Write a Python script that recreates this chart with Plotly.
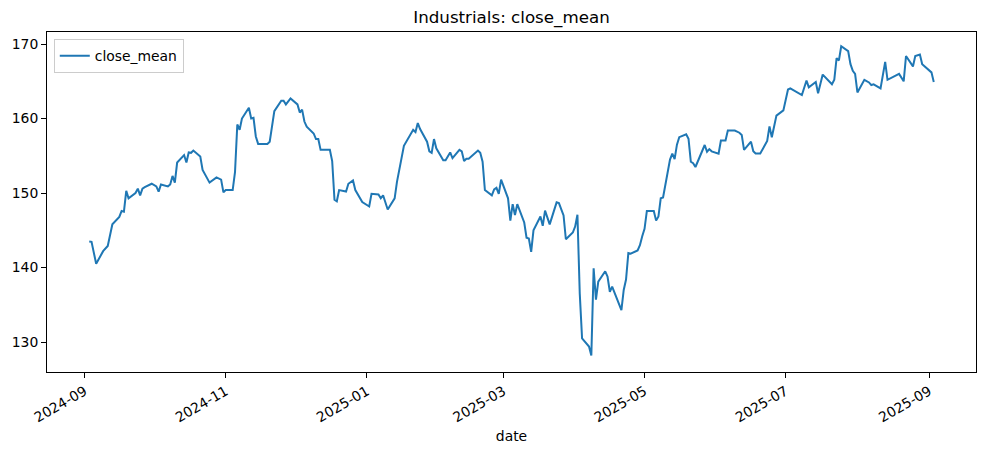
import plotly.graph_objects as go

# trading days (vertices of the line)
dates = [
    "2024-09-03", "2024-09-04", "2024-09-06", "2024-09-09", "2024-09-11", "2024-09-13",
    "2024-09-16", "2024-09-17", "2024-09-18", "2024-09-19", "2024-09-20", "2024-09-23",
    "2024-09-24", "2024-09-25", "2024-09-26", "2024-09-27", "2024-09-30", "2024-10-02",
    "2024-10-03", "2024-10-04", "2024-10-07", "2024-10-08", "2024-10-09", "2024-10-10",
    "2024-10-11", "2024-10-14", "2024-10-15", "2024-10-16", "2024-10-17", "2024-10-18",
    "2024-10-21", "2024-10-22", "2024-10-25", "2024-10-28", "2024-10-30", "2024-10-31",
    "2024-11-01", "2024-11-04", "2024-11-05", "2024-11-06", "2024-11-07", "2024-11-08",
    "2024-11-11", "2024-11-12", "2024-11-13", "2024-11-14", "2024-11-15", "2024-11-19",
    "2024-11-20", "2024-11-22", "2024-11-25", "2024-11-26", "2024-11-27", "2024-11-29",
    "2024-12-02", "2024-12-03", "2024-12-04", "2024-12-05", "2024-12-06", "2024-12-09",
    "2024-12-10", "2024-12-11", "2024-12-12", "2024-12-16", "2024-12-17", "2024-12-18",
    "2024-12-19", "2024-12-20", "2024-12-23", "2024-12-24", "2024-12-26", "2024-12-27",
    "2024-12-30", "2025-01-02", "2025-01-03", "2025-01-06", "2025-01-07", "2025-01-08",
    "2025-01-10", "2025-01-13", "2025-01-14", "2025-01-16", "2025-01-17", "2025-01-21",
    "2025-01-22", "2025-01-23", "2025-01-24", "2025-01-27", "2025-01-28", "2025-01-29",
    "2025-01-30", "2025-01-31", "2025-02-03", "2025-02-04", "2025-02-06", "2025-02-07",
    "2025-02-10", "2025-02-11", "2025-02-12", "2025-02-13", "2025-02-14", "2025-02-18",
    "2025-02-19", "2025-02-20", "2025-02-21", "2025-02-24", "2025-02-25", "2025-02-26",
    "2025-02-27", "2025-02-28", "2025-03-03", "2025-03-04", "2025-03-05", "2025-03-06",
    "2025-03-07", "2025-03-10", "2025-03-11", "2025-03-12", "2025-03-13", "2025-03-14",
    "2025-03-17", "2025-03-18", "2025-03-19", "2025-03-21", "2025-03-24", "2025-03-25",
    "2025-03-27", "2025-03-28", "2025-03-31", "2025-04-01", "2025-04-02", "2025-04-03",
    "2025-04-04", "2025-04-07", "2025-04-08", "2025-04-09", "2025-04-10", "2025-04-11",
    "2025-04-14", "2025-04-15", "2025-04-16", "2025-04-17", "2025-04-21", "2025-04-22",
    "2025-04-23", "2025-04-24", "2025-04-25", "2025-04-28", "2025-04-29", "2025-04-30",
    "2025-05-01", "2025-05-02", "2025-05-05", "2025-05-06", "2025-05-07", "2025-05-08",
    "2025-05-09", "2025-05-12", "2025-05-13", "2025-05-14", "2025-05-15", "2025-05-16",
    "2025-05-19", "2025-05-20", "2025-05-21", "2025-05-22", "2025-05-23", "2025-05-27",
    "2025-05-28", "2025-05-29", "2025-05-30", "2025-06-02", "2025-06-03", "2025-06-05",
    "2025-06-06", "2025-06-09", "2025-06-10", "2025-06-11", "2025-06-12", "2025-06-13",
    "2025-06-16", "2025-06-17", "2025-06-18", "2025-06-20", "2025-06-23", "2025-06-24",
    "2025-06-25", "2025-06-27", "2025-06-30", "2025-07-01", "2025-07-02", "2025-07-03",
    "2025-07-07", "2025-07-08", "2025-07-10", "2025-07-11", "2025-07-14", "2025-07-15",
    "2025-07-17", "2025-07-21", "2025-07-22", "2025-07-23", "2025-07-24", "2025-07-25",
    "2025-07-28", "2025-07-29", "2025-07-30", "2025-07-31", "2025-08-01", "2025-08-04",
    "2025-08-06", "2025-08-07", "2025-08-08", "2025-08-11", "2025-08-13", "2025-08-14",
    "2025-08-19", "2025-08-21", "2025-08-22", "2025-08-25", "2025-08-26", "2025-08-28",
    "2025-08-29", "2025-09-02", "2025-09-03",
]

close_mean = [
    143.5, 143.45, 140.5, 142.2, 142.9, 145.8,
    146.8, 147.6, 147.5, 150.3, 149.3, 150.0,
    150.6, 149.7, 150.6, 150.8, 151.25, 150.9,
    150.2, 151.15, 150.9, 151.15, 152.3, 151.4,
    154.1, 155.1, 154.1, 155.45, 155.4, 155.7,
    154.9, 153.1, 151.4, 152.1, 151.8, 150.1,
    150.4, 150.4, 152.8, 159.2, 158.5, 160.0,
    161.45, 160.0, 160.1, 157.6, 156.6, 156.6,
    156.9, 161.0, 162.4, 162.4, 161.9, 162.7,
    161.9, 160.8, 161.2, 159.6, 158.9, 158.0,
    157.25, 157.25, 155.8, 155.8, 154.3, 149.1,
    148.9, 150.4, 150.2, 151.25, 151.7, 150.4,
    148.8, 148.2, 149.9, 149.8, 149.3, 149.7,
    147.8, 149.3, 151.5, 154.5, 156.35, 158.5,
    158.2, 159.4, 158.6, 156.9, 155.6, 155.4,
    157.25, 156.0, 154.4, 154.4, 155.45, 154.7,
    155.8, 155.6, 154.3, 154.6, 154.6, 155.7,
    155.4, 154.2, 150.4, 149.7, 150.5, 150.7,
    149.9, 151.8, 149.3, 146.3, 148.5, 147.05,
    148.5, 146.05, 144.0, 143.9, 142.1, 145.0,
    146.85, 145.6, 147.65, 145.8, 148.75, 148.65,
    147.0, 143.8, 144.7, 145.5, 147.1, 136.5,
    130.5, 129.4, 128.2, 139.9, 135.7, 138.1,
    139.5, 138.8, 136.75, 137.45, 134.3, 137.0,
    138.4, 141.95, 141.85, 142.3, 143.0, 144.2,
    145.2, 147.6, 147.6, 146.3, 146.85, 149.3,
    149.4, 154.5, 155.3, 154.55, 156.5, 157.5,
    157.9, 157.3, 154.2, 154.0, 153.5, 156.45,
    155.55, 155.9, 155.6, 155.3, 157.05, 157.05,
    158.4, 158.4, 158.3, 158.1, 157.8, 155.8,
    156.9, 155.6, 155.3, 155.3, 157.0, 158.95,
    157.5, 160.4, 161.1, 162.6, 163.9, 164.05,
    163.3, 163.15, 165.1, 164.2, 164.9, 163.4,
    165.9, 164.6, 165.2, 168.1, 167.8, 169.7,
    169.05, 167.3, 166.4, 166.0, 163.5, 165.2,
    164.85, 164.5, 164.6, 164.05, 167.6, 165.2,
    166.0, 165.0, 168.4, 167.0, 168.4, 168.6,
    167.3, 166.2, 164.9,
]

FONT = "DejaVu Sans"

fig = go.Figure()
fig.add_trace(
    go.Scatter(
        x=dates,
        y=close_mean,
        mode="lines",
        name="close_mean",
        line={"color": "#1f77b4", "width": 2},
    )
)

axis_style = dict(
    showline=True,
    linecolor="black",
    linewidth=1,
    mirror=True,
    showgrid=False,
    zeroline=False,
    ticks="outside",
    ticklen=5,
    tickwidth=1,
    tickcolor="black",
    tickfont={"family": FONT, "size": 13.9, "color": "black"},
)

fig.update_xaxes(
    type="date",
    range=["2024-08-15 18:00", "2025-09-21 06:00"],
    tick0="2024-09-01",
    dtick="M2",
    tickformat="%Y-%m",
    tickangle=-30,
    title={"text": "date", "font": {"family": FONT, "size": 13.9, "color": "black"}, "standoff": 6},
    **axis_style,
)
fig.update_yaxes(
    range=[125.98, 171.62],
    tickvals=[130, 140, 150, 160, 170],
    **axis_style,
)

# the page body adds an 8px offset, so the figure is 8px smaller than the window
fig.update_layout(
    template="none",
    width=978,
    height=444,
    margin={"l": 38.5, "r": 9.7, "t": 24.3, "b": 79.7},
    paper_bgcolor="white",
    plot_bgcolor="white",
    font={"family": FONT, "color": "black"},
    title={
        "text": "Industrials: close_mean",
        "x": 0.5,
        "xref": "paper",
        "xanchor": "center",
        "y": 1 - 9.5 / 444,
        "yref": "container",
        "yanchor": "middle",
        "font": {"family": FONT, "size": 16.7, "color": "black"},
    },
    showlegend=True,
    legend={
        "x": 0.0073,
        "y": 0.979,
        "xanchor": "left",
        "yanchor": "top",
        "bgcolor": "rgba(255,255,255,0.8)",
        "bordercolor": "#cccccc",
        "borderwidth": 1,
        "font": {"family": FONT, "size": 13.9, "color": "black"},
    },
)

fig.write_html("out.html")
